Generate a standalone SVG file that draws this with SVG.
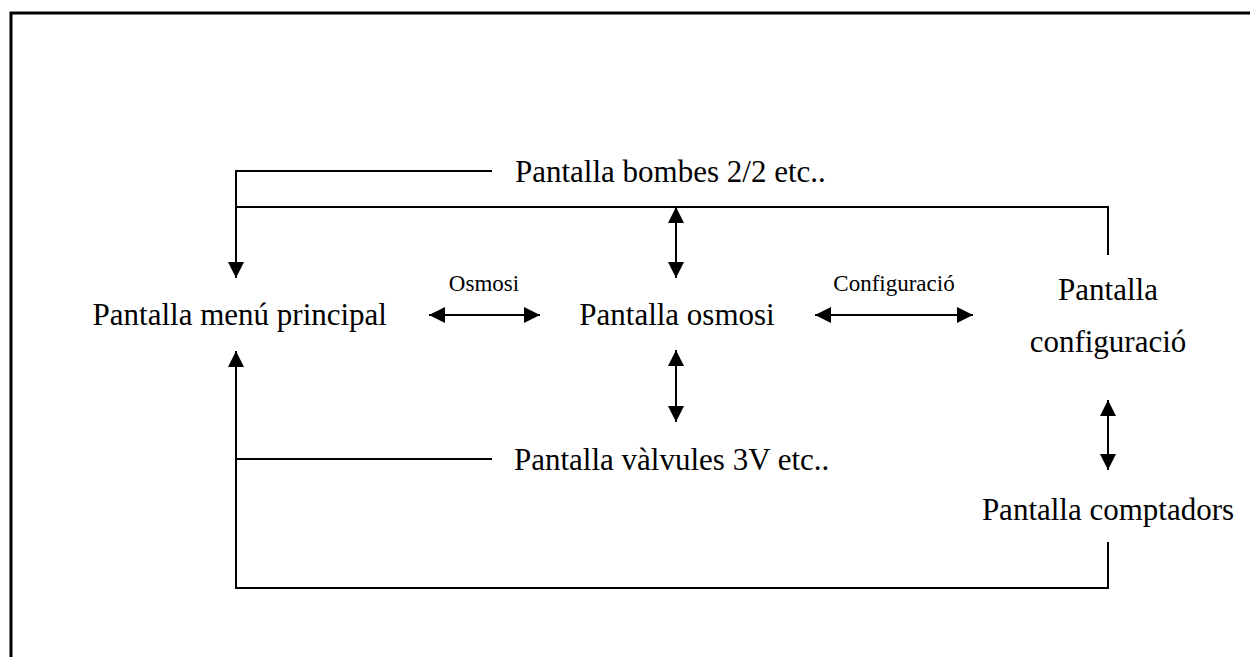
<svg xmlns="http://www.w3.org/2000/svg" width="1250" height="657" viewBox="0 0 1250 657">
<style>
.t{font-family:"Liberation Serif","Times New Roman",serif;fill:#000;}
.big{font-size:31px;}
.small{font-size:23px;}
.mid{text-anchor:middle;}
.ln{fill:none;stroke:#000;stroke-width:2;}
</style>
<defs>
<marker id="ah" viewBox="0 0 10 10" refX="10" refY="5" markerWidth="8" markerHeight="8" markerUnits="strokeWidth" orient="auto-start-reverse">
<path d="M0,0 L10,5 L0,10 Z" fill="#000"/>
</marker>
</defs>
<rect width="1250" height="657" fill="#fff"/>
<rect x="11" y="13" width="1260" height="680" fill="none" stroke="#000" stroke-width="3"/>
<g id="connectors">
<path class="ln" d="M492,171 H236 V278" marker-end="url(#ah)"/>
<path class="ln" d="M236,207 H1108 V255"/>
<path class="ln" d="M492,459 H236"/>
<path class="ln" d="M1108,542 V588 H236 V351" marker-end="url(#ah)"/>
<path class="ln" d="M676,207 V278" marker-start="url(#ah)" marker-end="url(#ah)"/>
<path class="ln" d="M676,350 V422" marker-start="url(#ah)" marker-end="url(#ah)"/>
<path class="ln" d="M1108,400 V470" marker-start="url(#ah)" marker-end="url(#ah)"/>
<path class="ln" d="M429,315 H540" marker-start="url(#ah)" marker-end="url(#ah)"/>
<path class="ln" d="M815,315 H973" marker-start="url(#ah)" marker-end="url(#ah)"/>
<text class="t small mid" x="484" y="291">Osmosi</text>
<text class="t small mid" x="894" y="291">Configuració</text>
</g>
<g id="node-menu"><text class="t big" x="387" y="325" text-anchor="end">Pantalla menú principal</text></g>
<g id="node-osmosi"><text class="t big mid" x="677" y="325">Pantalla osmosi</text></g>
<g id="node-bombes"><text class="t big" x="515" y="182">Pantalla bombes 2/2 etc..</text></g>
<g id="node-valvules"><text class="t big" x="514" y="470">Pantalla vàlvules 3V etc..</text></g>
<g id="node-config"><text class="t big mid" x="1108" y="300">Pantalla</text><text class="t big mid" x="1108" y="352">configuració</text></g>
<g id="node-comptadors"><text class="t big mid" x="1108" y="520">Pantalla comptadors</text></g>
</svg>
